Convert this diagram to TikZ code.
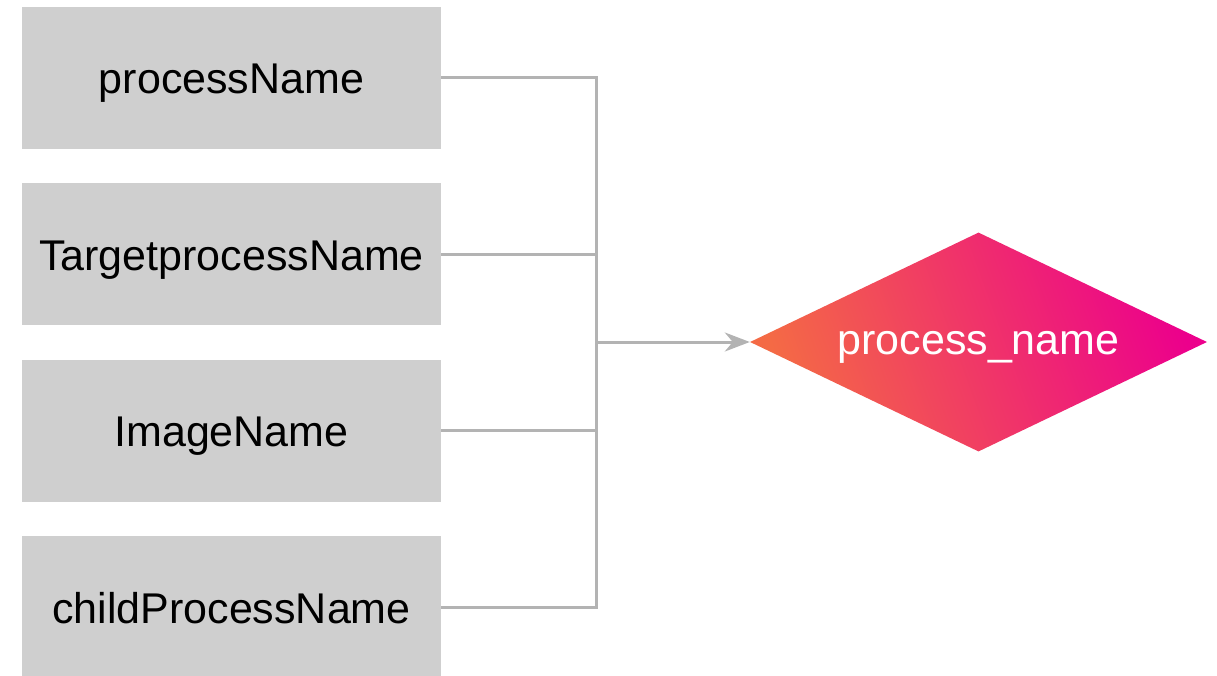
\documentclass[tikz,border=0pt]{standalone}
\usepackage{fontspec}
\setmainfont{Liberation Sans}
\usepackage{tikz}
\usetikzlibrary{arrows.meta,positioning,shapes.geometric}
\definecolor{boxgray}{HTML}{CFCFCF}
\definecolor{linegray}{HTML}{B3B3B3}
\definecolor{warmorange}{HTML}{F46A45}
\definecolor{hotpink}{HTML}{EC008C}

\begin{document}
\begin{tikzpicture}[x=1pt,y=-1pt,>={Stealth[length=25pt,width=19pt,inset=8pt]},node distance=34pt,
    field/.style={fill=boxgray,minimum width=419pt,minimum height=142pt,inner sep=0pt,
      text height=32pt,text depth=0pt,font=\fontsize{43}{50}\selectfont},
    wire/.style={draw=linegray,line width=3pt}]
  \useasboundingbox (0,0) rectangle (1217,676);
  \node[field] (pn)                 at (231.5,78) {processName};
  \node[field] (tpn) [below=of pn]  {TargetprocessName};
  \node[field] (imn) [below=of tpn] {ImageName};
  \node[field] (cpn) [below=of imn] {childProcessName};
  \node[diamond,aspect=2.09,minimum width=457pt,minimum height=219pt,inner sep=0pt,
        shade,left color=warmorange,right color=hotpink,shading angle=110,
        text=white,text height=32pt,text depth=8pt,
        font=\fontsize{43}{50}\selectfont] (pname) at (978.5,342) {process\_name};
  \coordinate (jn) at (596,342);

  \path[wire] (pn.east) -| (jn)
        (cpn.east) -| (jn)
        (tpn.east) -- (tpn.east -| jn)
        (imn.east) -- (imn.east -| jn);
  \path[wire,->] (jn) -- (pname.west);
\end{tikzpicture}
\end{document}
